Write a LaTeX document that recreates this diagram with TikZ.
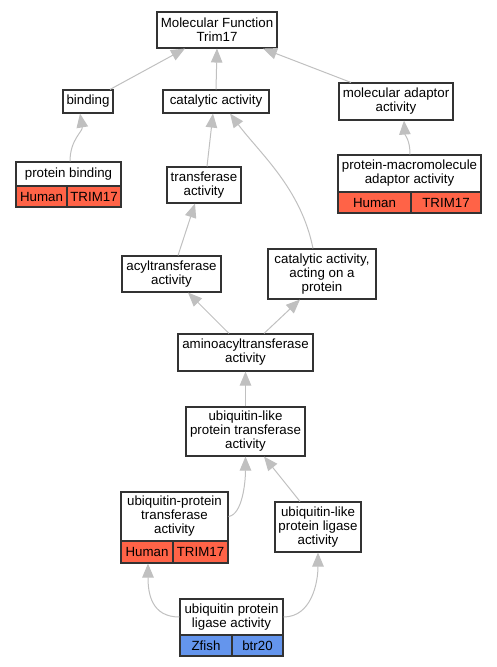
\documentclass[tikz,border=0pt]{standalone}
\usepackage{fontspec}
\setmainfont{Liberation Sans}
\usetikzlibrary{arrows.meta}
\definecolor{humanred}{HTML}{FF6347}
\definecolor{fishblue}{HTML}{6495ED}
\definecolor{edgegray}{HTML}{C0C0C0}
\definecolor{boxline}{HTML}{333333}
\tikzset{
	term/.style={draw=boxline, line width=1.1pt, fill=white, align=center, inner sep=0pt, font=\fontsize{13.3}{14}\selectfont},
	human/.style={term, fill=humanred},
	zfish/.style={term, fill=fishblue},
	isa/.style={draw=edgegray, line width=1pt, -{Triangle[length=14pt,width=11.5pt]}}
}
\begin{document}
\begin{tikzpicture}[x=1pt,y=-1pt]
		\useasboundingbox (0,0) rectangle (496,667);
		%racine
		\node[term, minimum width=120, minimum height=36] (mf) at (217,30) {Molecular Function\\Trim17};
		%niveau 1
		\node[term, minimum width=50, minimum height=23] (binding) at (88,101.5) {binding};
		\node[term, minimum width=106, minimum height=23] (cat) at (216,101.5) {catalytic activity};
		\node[term, minimum width=114, minimum height=37] (madapt) at (396,101.5) {molecular adaptor\\activity};
		%niveau 2
		\node[term, minimum width=105, minimum height=24] (pbind) at (68.5,174) {protein binding};
		\node[human, minimum width=51, minimum height=21] (pbindA) at (41.5,196.5) {Human};
		\node[human, minimum width=54, minimum height=21] (pbindB) at (94,196.5) {TRIM17};
		\node[term, minimum width=74, minimum height=36] (transf) at (204,185) {transferase\\activity};
		\node[term, minimum width=143, minimum height=37] (pma) at (409.5,173.5) {protein-macromolecule\\adaptor activity};
		\node[human, minimum width=73, minimum height=21] (pmaA) at (374.5,202.5) {Human};
		\node[human, minimum width=70, minimum height=21] (pmaB) at (446,202.5) {TRIM17};
		%niveau 3
		\node[term, minimum width=99, minimum height=36] (acyl) at (171.5,274) {acyltransferase\\activity};
		\node[term, minimum width=108, minimum height=50] (catprot) at (322,274) {catalytic activity,\\acting on a\\protein};
		\node[term, minimum width=135, minimum height=37] (amino) at (245.5,352.5) {aminoacyltransferase\\activity};
		\node[term, minimum width=119, minimum height=49] (ubltr) at (245.5,431.5) {ubiquitin-like\\protein transferase\\activity};
		%niveau 4
		\node[term, minimum width=107, minimum height=49] (upt) at (174.5,516.5) {ubiquitin-protein\\transferase\\activity};
		\node[human, minimum width=52, minimum height=22] (uptA) at (147,552) {Human};
		\node[human, minimum width=55, minimum height=22] (uptB) at (200.5,552) {TRIM17};
		\node[term, minimum width=86, minimum height=50] (ubllig) at (318,527) {ubiquitin-like\\protein ligase\\activity};
		\node[term, minimum width=103, minimum height=36] (upl) at (231.5,617) {ubiquitin protein\\ligase activity};
		\node[zfish, minimum width=52, minimum height=21] (uplA) at (206,645.5) {Zfish};
		\node[zfish, minimum width=51, minimum height=21] (uplB) at (257.5,645.5) {btr20};
		%liens
		\draw[isa] ([xshift=22pt]binding.north) -- ([xshift=-32pt]mf.south);
		\draw[isa] (cat.north) -- (mf.south);
		\draw[isa] ([xshift=-45pt]madapt.north) -- ([xshift=46pt]mf.south);
		\draw[isa] ([xshift=1.5pt]pbind.north) .. controls +(0,-22) and +(3,18) .. ([xshift=-8pt]binding.south);
		\draw[isa] ([xshift=0.5pt]pma.north) .. controls +(0,-15) and +(1,15) .. ([xshift=8pt]madapt.south);
		\draw[isa] ([xshift=3pt]transf.north) -- ([xshift=-3pt]cat.south);
		\draw[isa] ([xshift=-9pt]catprot.north) .. controls +(-12,-60) and +(30,40) .. ([xshift=14pt]cat.south);
		\draw[isa] ([xshift=6.5pt]acyl.north) -- ([xshift=-9pt]transf.south);
		\draw[isa] ([xshift=-16.5pt]amino.north) -- ([xshift=16.5pt]acyl.south);
		\draw[isa] ([xshift=18.5pt]amino.north) -- ([xshift=-22pt]catprot.south);
		\draw[isa] (ubltr.north) -- (amino.south);
		\draw[isa] (upt.east) .. controls +(14,-2) and +(0,25) .. (ubltr.south);
		\draw[isa] ([xshift=-18pt]ubllig.north) -- ([xshift=18.5pt]ubltr.south);
		\draw[isa] (upl.west) .. controls +(-28,0) and +(0,30) .. ([xshift=1pt]uptA.south);
		\draw[isa] (upl.east) .. controls +(28,0) and +(0,30) .. (ubllig.south);
	\end{tikzpicture}
\end{document}
